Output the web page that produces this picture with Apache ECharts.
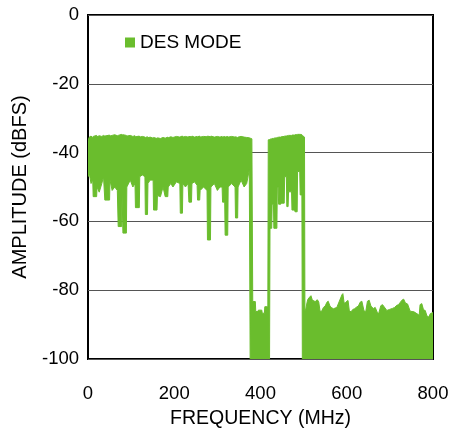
<!DOCTYPE html>
<html>
<head>
<meta charset="utf-8">
<script src="https://cdn.jsdelivr.net/npm/echarts@6/dist/echarts.min.js"></script>
<style>
  html, body { margin: 0; padding: 0; background: #fff; }
  #chart { width: 453px; height: 434px; }
</style>
</head>
<body>
<div id="chart"></div>
<script>
// spectrum: frequency (MHz), top and bottom of the trace (dBFS)
var freq = [
  0, 3, 7, 11, 12, 20, 21, 26, 32, 36, 39, 50, 51, 56, 62, 68, 70, 78, 79, 81, 89, 90,
  98, 104, 109, 110, 119, 120, 126, 132, 133, 138, 139, 144, 151, 152, 160, 161, 168, 174,
  179, 185, 186, 192, 197, 205, 213, 214, 219, 220, 226, 232, 234, 240, 241, 247, 253, 254,
  259, 260, 268, 276, 277, 284, 285, 293, 300, 306, 311, 312, 317, 318, 324, 325, 333, 341,
  342, 347, 348, 355, 362, 368, 374, 376, 380,
  382, 388, 389, 394, 395, 403, 404, 409, 410, 417,
  418, 421, 422, 426, 427, 430, 431, 438, 439, 441, 442, 447, 448, 455, 456, 460, 461, 464,
  465, 472, 473, 479, 480, 485, 486, 491, 492, 496, 497, 502,
  503, 505, 508, 510, 514, 517, 521, 524, 527, 529, 532, 535, 538, 541, 546, 550, 554, 557,
  561, 564, 569, 577, 589, 591, 594, 597, 600, 603, 606, 610, 614, 618, 623, 627, 631, 635,
  640, 644, 648, 652, 656, 659, 662, 666, 671, 674, 679, 683, 693, 699, 706, 711, 716, 720,
  728, 732, 736, 741, 747, 756, 766, 768, 770, 774, 778, 782, 786, 790, 794, 800
];
var upper = [
  -36.5, -35.5, -35.2, -35.6, -35.3, -35.0, -35.4, -35.1, -35.3, -35.0, -35.2, -34.9, -35.2, -35.0, -34.8, -35.1, -35.0, -34.7, -34.9, -34.8, -35.0, -35.2,
  -35.0, -35.3, -35.1, -35.4, -35.2, -35.5, -35.3, -35.5, -35.6, -35.4, -35.7, -35.5, -35.8, -35.6, -35.9, -35.7, -35.9, -35.6,
  -35.8, -35.5, -35.7, -35.4, -35.6, -35.3, -35.5, -35.4, -35.2, -35.5, -35.3, -35.5, -35.3, -35.4, -35.2, -35.5, -35.3, -35.4,
  -35.2, -35.5, -35.3, -35.4, -35.2, -35.4, -35.2, -35.5, -35.3, -35.5, -35.3, -35.5, -35.3, -35.5, -35.3, -35.5, -35.3, -35.5,
  -35.4, -35.6, -35.5, -35.3, -35.5, -35.6, -35.7, -35.8, -36.0,
  -83.3, -83.3, -86.2, -86.2, -85.8, -85.8, -86.7, -86.7, -84.8, -84.8,
  -36.3, -36.2, -36.1, -36.0, -35.9, -35.9, -35.8, -35.7, -35.6, -35.6, -35.5, -35.5, -35.4, -35.3, -35.2, -35.2, -35.1, -35.1,
  -35.0, -35.0, -34.9, -34.9, -34.8, -34.8, -34.7, -34.7, -34.7, -34.8, -35.0, -35.5,
  -86.0, -85.5, -83.5, -82.6, -82.0, -81.6, -83.2, -83.0, -83.5, -83.0, -82.8, -83.4, -86.0, -86.3, -85.0, -84.6, -83.5, -83.2,
  -84.6, -85.0, -85.4, -85.0, -81.3, -81.0, -83.8, -83.6, -83.2, -83.0, -86.0, -86.3, -85.6, -85.4, -84.9, -84.6, -83.5, -83.2,
  -86.0, -86.3, -83.2, -82.9, -84.6, -85.0, -85.3, -85.0, -86.5, -86.8, -84.5, -84.2, -85.9, -85.6, -85.3, -85.0, -84.4, -84.2,
  -82.9, -82.6, -83.7, -84.0, -86.1, -86.3, -87.1, -87.3, -84.2, -83.9, -85.7, -85.9, -87.5, -87.8, -86.8, -86.5
];
var lower = [
  -47, -46, -49, -48, -52.8, -52.8, -50, -51.5, -49, -47, -53.8, -53.8, -48, -51, -50, -51, -61.5, -61.5, -52, -63.4, -63.4, -50,
  -48, -50, -49, -56, -56, -47, -46.5, -47, -58, -58, -49, -48, -48, -56.7, -56.7, -52.5, -52.8, -50,
  -52.8, -52.8, -50, -49, -50, -48.5, -49, -57.6, -57.6, -49, -50, -49, -54.4, -54.4, -49, -48.5, -49.5, -53.8,
  -53.8, -51, -50, -51, -65.4, -65.4, -50, -49, -51, -50, -50, -54.4, -54.4, -64, -64, -50, -49, -50,
  -59, -59, -50, -48, -50, -49, -45, -100, -100,
  -100, -100, -100, -100, -100, -100, -100, -100, -100, -100,
  -100, -100, -62, -62, -55, -55, -62, -62, -50, -50, -55, -55, -54.7, -54.7, -47, -47, -55.7, -55.7,
  -51.4, -51.4, -56.7, -56.7, -57.2, -57.2, -45.5, -45.5, -52.3, -52.3, -100, -100,
  -100, -100, -100, -100, -100, -100, -100, -100, -100, -100, -100, -100, -100, -100, -100, -100, -100, -100,
  -100, -100, -100, -100, -100, -100, -100, -100, -100, -100, -100, -100, -100, -100, -100, -100, -100, -100,
  -100, -100, -100, -100, -100, -100, -100, -100, -100, -100, -100, -100, -100, -100, -100, -100, -100, -100,
  -100, -100, -100, -100, -100, -100, -100, -100, -100, -100, -100, -100, -100, -100, -100, -100
];
var seriesName = 'DES MODE';
var xTicks = [0, 200, 400, 600, 800];
var yTicks = [0, -20, -40, -60, -80, -100];

var green = '#6abd2d';
var font = 'Liberation Sans, Arial, sans-serif';

// one item per sample; the first item draws the whole band as one polygon
// (top edge left to right, bottom edge back) so no seams show between pieces
var points = freq.map(function (f, i) { return [f, upper[i], lower[i]]; });

function renderBand(params, api) {
  if (params.dataIndex !== 0) return null;
  var pts = [];
  for (var i = 0; i < points.length; i++) {
    pts.push(api.coord([points[i][0], points[i][1]]));
  }
  for (var j = points.length - 1; j >= 0; j--) {
    pts.push(api.coord([points[j][0], points[j][2]]));
  }
  return {
    type: 'polygon',
    shape: { points: pts },
    style: { fill: green, stroke: green, lineWidth: 1 }
  };
}

var chart = echarts.init(document.getElementById('chart'), null, { renderer: 'canvas' });
var option = {
  animation: false,
  backgroundColor: '#fff',
  textStyle: { fontFamily: font },
  grid: {
    left: 88, right: 20, top: 15, bottom: 75,
    show: true,
    borderColor: '#000',
    borderWidth: 2
  },
  legend: {
    data: [seriesName],
    left: 125,
    top: 33,
    padding: 0,
    icon: 'rect',
    itemWidth: 10,
    itemHeight: 10,
    itemGap: 5,
    textStyle: { fontFamily: font, fontSize: 19, color: '#000', lineHeight: 19 }
  },
  xAxis: {
    type: 'value',
    min: xTicks[0],
    max: xTicks[xTicks.length - 1],
    interval: 200,
    name: 'FREQUENCY (MHz)',
    nameLocation: 'middle',
    nameGap: 50,
    nameTextStyle: { fontFamily: font, fontSize: 19.5, color: '#000' },
    axisLine: { show: false },
    axisTick: { show: false },
    splitLine: { show: false },
    axisLabel: { fontFamily: font, fontSize: 18.5, color: '#000', margin: 25 }
  },
  yAxis: {
    type: 'value',
    min: yTicks[yTicks.length - 1],
    max: yTicks[0],
    interval: 20,
    name: 'AMPLITUDE (dBFS)',
    nameLocation: 'middle',
    nameGap: 58,
    nameTextStyle: { fontFamily: font, fontSize: 20, color: '#000' },
    axisLine: { show: false },
    axisTick: { show: false },
    splitLine: { show: true, lineStyle: { color: '#555', width: 1 } },
    axisLabel: { fontFamily: font, fontSize: 18.5, color: '#000', margin: 9 }
  },
  series: [
    {
      name: seriesName,
      type: 'custom',
      coordinateSystem: 'cartesian2d',
      data: points,
      encode: { x: 0, y: [1, 2] },
      renderItem: renderBand,
      clip: true,
      silent: true,
      itemStyle: { color: green }
    }
  ]
};
chart.setOption(option);
</script>
</body>
</html>
